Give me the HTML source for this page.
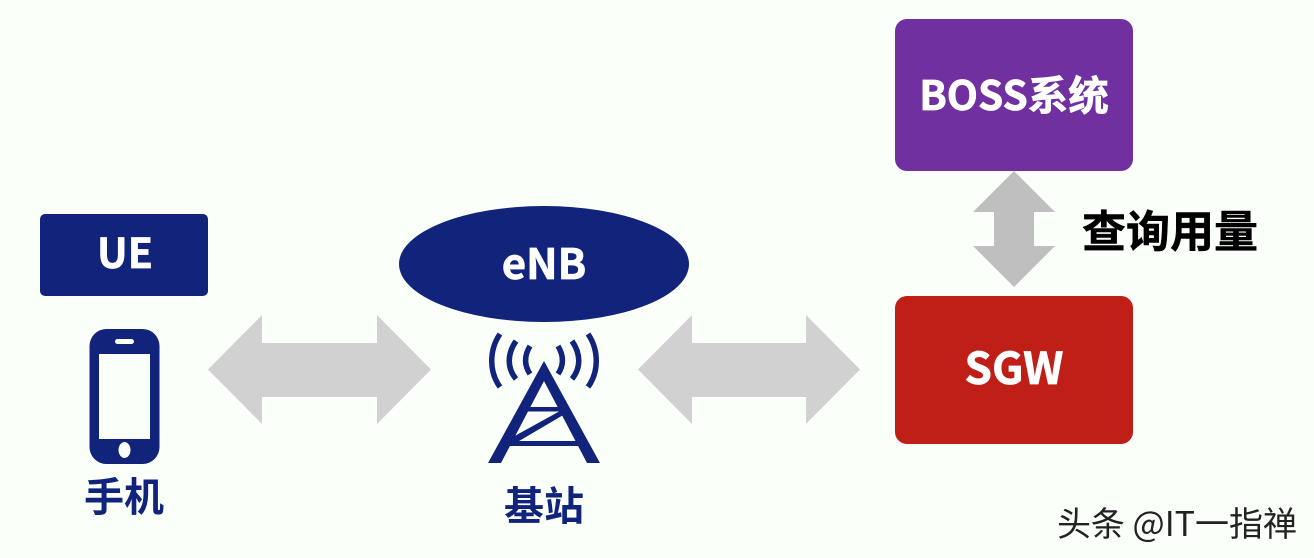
<!DOCTYPE html>
<html>
<head>
<meta charset="utf-8">
<style>
html,body{margin:0;padding:0;background:#fbfffa;}
svg{display:block;}
text{font-family:"Noto Sans CJK SC","Liberation Sans",sans-serif;font-weight:700;text-anchor:middle;}
</style>
</head>
<body>
<svg width="1314" height="558" viewBox="0 0 1314 558" xmlns="http://www.w3.org/2000/svg">
<rect width="1314" height="558" fill="#fbfffa"/>

<!-- Boxes -->
<rect x="895" y="19" width="238" height="152" rx="12" fill="#7030a0"/>
<rect x="895" y="296" width="238" height="148" rx="12" fill="#bf1f17"/>
<rect x="40" y="214" width="168" height="82" rx="5" fill="#12237b"/>
<ellipse cx="544" cy="264" rx="145" ry="58" fill="#12237b"/>

<!-- Arrows -->
<polygon points="208,369.500 262,315 262,343 377,343 377,315 431,369.500 377,424 377,397 262,397 262,424" fill="#d0d1d0"/>
<polygon points="638,369.500 692,315 692,343 806,343 806,315 860,369.500 806,424 806,397 692,397 692,424" fill="#d0d1d0"/>
<polygon points="1014,171 1055,212 1034,212 1034,246 1055,246 1014,287 973,246 994,246 994,212 973,212" fill="#bfbfbf"/>

<!-- Phone -->
<rect x="89.500" y="329" width="70" height="135" rx="17" fill="#12237b"/>
<rect x="99" y="354" width="51" height="85" fill="#fbfffa"/>
<rect x="115" y="339" width="19" height="5" rx="2.500" fill="#fbfffa"/>
<ellipse cx="124.500" cy="450" rx="6" ry="8" fill="#fbfffa"/>

<!-- Tower -->
<g fill="#12237b">
<polygon points="544,361 600,463 587,463 544,381 501,463 488,463"/>
<rect x="526" y="407" width="37" height="4.500"/>
<rect x="506" y="441" width="77" height="5"/>
<polygon points="511,438 560,411 565,414 514,444"/>
</g>
<g fill="none" stroke="#12237b" stroke-width="5.500" stroke-linecap="butt">
<path d="M500,334 C489,350 489,372 500,387"/>
<path d="M516,341 C507,354 507,368 516,379"/>
<path d="M530,346 C524,356 524,365 530,374"/>
<path d="M588,334 C599,350 599,372 588,387"/>
<path d="M572,341 C581,354 581,368 572,379"/>
<path d="M558,346 C564,356 564,365 558,374"/>
</g>

<!-- Labels -->
<text x="1014" y="110" font-size="40.500" fill="#ffffff" stroke="#ffffff" stroke-width="0.700">BOSS系统</text>
<text x="1014" y="384" font-size="44" fill="#ffffff" stroke="#ffffff" stroke-width="0.700">SGW</text>
<text x="125" y="268" font-size="41" fill="#ffffff" stroke="#ffffff" stroke-width="0.700">UE</text>
<text x="544" y="279" font-size="42" fill="#ffffff" stroke="#ffffff" stroke-width="0.700">eNB</text>
<text x="124" y="511" font-size="40" fill="#12237b">手机</text>
<text x="544" y="520" font-size="40" fill="#12237b">基站</text>
<text x="1170" y="247" font-size="44" fill="#000000" stroke="#000000" stroke-width="0.500">查询用量</text>
<text x="1177" y="536" font-size="34" fill="#222222" style="font-weight:400">头条 @IT一指禅</text>
</svg>
</body>
</html>
